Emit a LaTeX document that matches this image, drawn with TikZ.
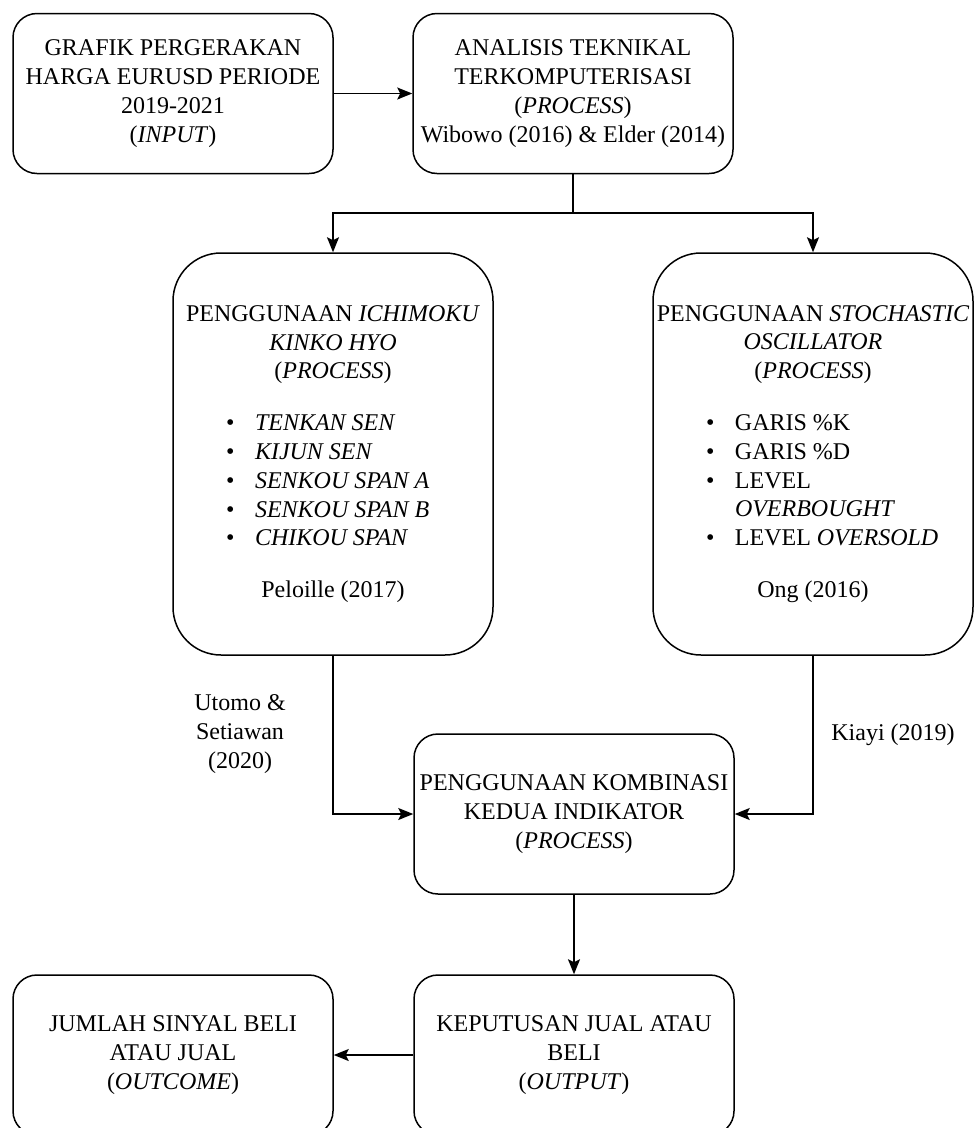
\documentclass[tikz,border=0pt]{standalone}
\usepackage{fontspec}
\setmainfont{Liberation Serif}
\usetikzlibrary{arrows.meta}
\begin{document}
\begin{tikzpicture}[x=1pt,y=1pt,
  box/.style={draw, line width=1.5pt, rounded corners=24pt, minimum width=320pt, minimum height=160pt, align=center, inner sep=0pt, font=\fontsize{24}{28.8}\selectfont},
  tallbox/.style={box, rounded corners=48pt, minimum height=402pt},
  lbl/.style={align=center, inner sep=0pt, font=\fontsize{24}{28.8}\selectfont},
  conn/.style={line width=1.5pt},
  arr/.style={conn, -{Stealth[length=15pt,width=12pt,inset=3pt]}}]
\useasboundingbox (0,0) rectangle (975,-1128);
\newcommand{\bitem}[1]{\makebox[214pt][l]{\makebox[29pt][l]{\textbullet}#1}}
\node[box] (b1) at (173,-93.5) {GRAFIK PERGERAKAN\\HARGA EURUSD PERIODE\\2019-2021\\(\textit{INPUT})};
\node[box] (b2) at (573,-93.5) {ANALISIS TEKNIKAL\\TERKOMPUTERISASI\\(\textit{PROCESS})\\Wibowo (2016) \& Elder (2014)};
\node[tallbox] (b3) at (333,-454) {PENGGUNAAN \textit{ICHIMOKU}\\\textit{KINKO HYO}\\(\textit{PROCESS})\\[23pt]
  \bitem{\textit{TENKAN SEN}}\\\bitem{\textit{KIJUN SEN}}\\\bitem{\textit{SENKOU SPAN A}}\\\bitem{\textit{SENKOU SPAN B}}\\\bitem{\textit{CHIKOU SPAN}}\\[23pt]
  Peloille (2017)};
\node[tallbox] (b4) at (813,-454) {PENGGUNAAN \textit{STOCHASTIC}\\\textit{OSCILLATOR}\\(\textit{PROCESS})\\[23pt]
  \bitem{GARIS \%K}\\\bitem{GARIS \%D}\\\bitem{LEVEL}\\\makebox[214pt][l]{\hspace{29pt}\textit{OVERBOUGHT}}\\\bitem{LEVEL \textit{OVERSOLD}}\\[23pt]
  Ong (2016)};
\node[box] (b5) at (574,-814) {PENGGUNAAN KOMBINASI\\KEDUA INDIKATOR\\(\textit{PROCESS})};
\node[box] (b6) at (574,-1055) {KEPUTUSAN JUAL ATAU\\BELI\\(\textit{OUTPUT})};
\node[box] (b7) at (173,-1055) {JUMLAH SINYAL BELI\\ATAU JUAL\\(\textit{OUTCOME})};
\node[lbl] (l1) at (240,-734) {Utomo \&\\Setiawan\\(2020)};
\node[lbl] (l2) at (893,-735) {Kiayi (2019)};
\coordinate (j) at (573,-213);
\draw[arr] (b1.east) -- (b2.west);
\draw[conn] (b2.south) -- (j);
\draw[arr] (j) -| (b3.north);
\draw[arr] (j) -| (b4.north);
\draw[arr] (b3.south) |- (b5.west);
\draw[arr] (b4.south) |- (b5.east);
\draw[arr] (b5.south) -- (b6.north);
\draw[arr] (b6.west) -- (b7.east);
\end{tikzpicture}
\end{document}
